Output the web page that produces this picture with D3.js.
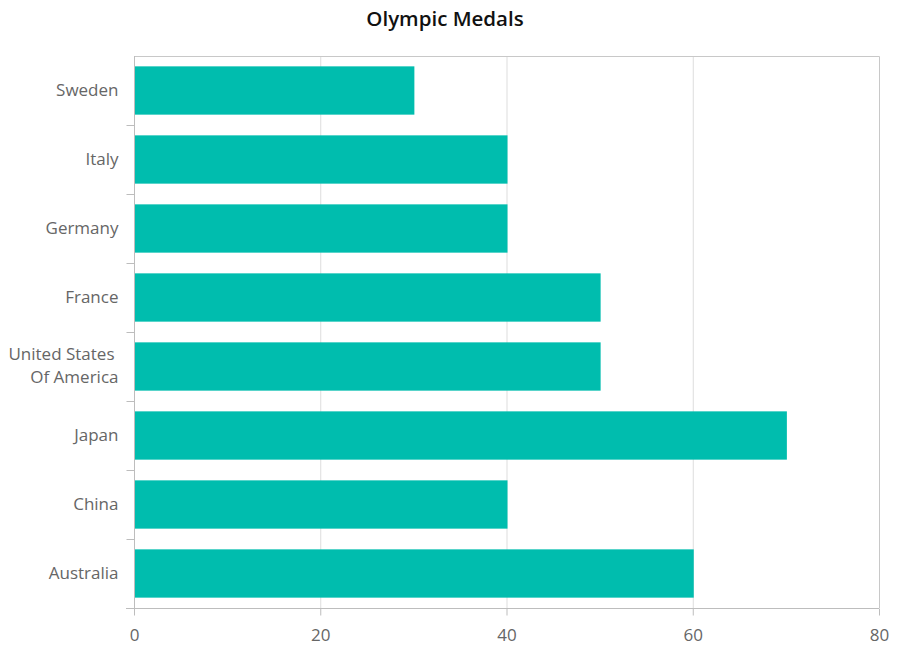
<!DOCTYPE html>
<html>
<head>
<meta charset="utf-8">
<script src="https://cdn.jsdelivr.net/npm/d3@7"></script>
<style>
  body { margin: 0; background: #fff; }
  text { font-family: "Open Sans", "Noto Sans", sans-serif; }
</style>
</head>
<body>
<div id="chart"></div>
<script>
// Olympic medals, bottom to top as drawn
const countries = ["Australia", "China", "Japan", "United States Of America", "France", "Germany", "Italy", "Sweden"];
const medals = [60, 40, 70, 50, 50, 40, 40, 30];
const xTicks = [0, 20, 40, 60, 80];

const width = 913;
const height = 656;
const margin = { top: 56, right: 34, bottom: 48, left: 134 };

const svg = d3.select("#chart")
  .append("svg")
  .attr("width", width)
  .attr("height", height);

svg.append("text")
  .attr("x", 445)
  .attr("y", 26)
  .attr("text-anchor", "middle")
  .attr("font-size", "20.5px")
  .attr("font-weight", "600")
  .attr("fill", "#111")
  .text("Olympic Medals");

const x = d3.scaleLinear()
  .domain([0, 80])
  .range([margin.left, width - margin.right]);

const y = d3.scaleBand()
  .domain(countries)
  .range([height - margin.bottom, margin.top])
  .paddingInner(0.3)
  .paddingOuter(0.15);

const plotTop = margin.top, plotBottom = height - margin.bottom;
const plotLeft = margin.left, plotRight = width - margin.right;

// gridlines
svg.append("g")
  .selectAll("line")
  .data(xTicks.slice(1, -1))
  .join("line")
  .attr("x1", d => x(d) + 0.5).attr("x2", d => x(d) + 0.5)
  .attr("y1", plotTop).attr("y2", plotBottom)
  .attr("stroke", "#dddddd")
  .attr("stroke-width", 1);

// plot border (top + right)
svg.append("path")
  .attr("d", `M${plotLeft},${plotTop + 0.5}H${plotRight + 0.5}V${plotBottom}`)
  .attr("fill", "none")
  .attr("stroke", "#c8c8c8");

// bars
svg.append("g")
  .selectAll("rect")
  .data(countries)
  .join("rect")
  .attr("x", x(0) + 1)
  .attr("y", d => y(d))
  .attr("width", (d, i) => x(medals[i]) - x(0))
  .attr("height", y.bandwidth())
  .attr("fill", "#00bdae");

// x axis
const xAxis = svg.append("g")
  .attr("transform", `translate(0,${plotBottom + 0.5})`)
  .call(d3.axisBottom(x).tickValues(xTicks).tickSize(7).tickSizeOuter(0).tickPadding(13));
xAxis.select(".domain").attr("d", `M${plotLeft - 8},0H${plotRight}`).attr("stroke", "#bdbdbd");
xAxis.selectAll(".tick line").attr("stroke", "#bdbdbd");
xAxis.selectAll(".tick text").attr("fill", "#666").attr("font-size", "17px");

// y axis
const step = y.step();
const yAxisG = svg.append("g")
  .attr("transform", `translate(${plotLeft + 0.5},0)`);
yAxisG.append("line")
  .attr("y1", plotTop).attr("y2", plotBottom)
  .attr("stroke", "#bdbdbd");
yAxisG.selectAll(".ytick")
  .data(d3.range(countries.length))
  .join("line")
  .attr("x1", -8).attr("x2", 0)
  .attr("y1", i => plotBottom - i * step + 0.5)
  .attr("y2", i => plotBottom - i * step + 0.5)
  .attr("stroke", "#bdbdbd");

const labels = yAxisG.selectAll(".ylabel")
  .data(countries)
  .join("text")
  .attr("text-anchor", "end")
  .attr("font-size", "17px")
  .attr("fill", "#666");

labels.each(function(d) {
  const t = d3.select(this);
  const cy = y(d) + y.bandwidth() / 2;
  const lines = d === "United States Of America" ? ["United States", "Of America"] : [d];
  lines.forEach((ln, k) => {
    t.append("tspan")
      .attr("x", lines.length > 1 && k === 0 ? -20 : -16)
      .attr("y", cy + 5 + (k - (lines.length - 1) / 2) * 23)
      .text(ln);
  });
});
</script>
</body>
</html>
